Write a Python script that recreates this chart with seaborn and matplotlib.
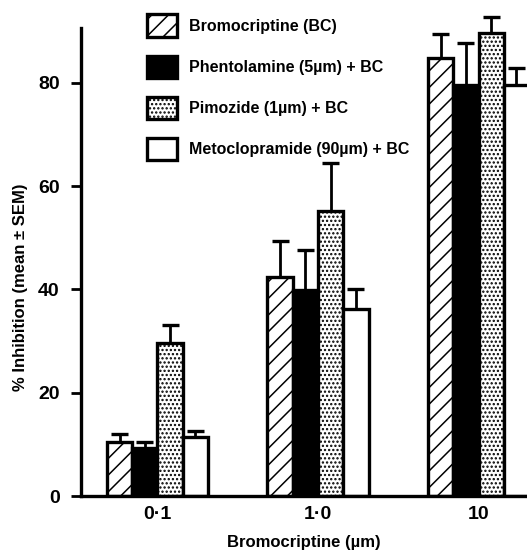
import matplotlib
matplotlib.use("Agg")
import matplotlib.pyplot as plt
from matplotlib.patches import Patch
import seaborn as sns
import pandas as pd

# ---- data ----
doses = ["0·1", "1·0", "10"]
treatments = ["Bromocriptine (BC)", "Phentolamine (5µm) + BC",
              "Pimozide (1µm) + BC", "Metoclopramide (90µm) + BC"]
bc_mean = [10.5, 42.4, 84.8]
phent_mean = [9.3, 39.9, 79.6]
pim_mean = [29.6, 55.2, 89.6]
meto_mean = [11.4, 36.2, 79.6]
bc_sem = [1.5, 7.0, 4.6]
phent_sem = [1.2, 7.7, 8.1]
pim_sem = [3.5, 9.3, 3.1]
meto_sem = [1.2, 3.9, 3.2]
yticks = [0, 20, 40, 60, 80]

means = [bc_mean, phent_mean, pim_mean, meto_mean]
sems = [bc_sem, phent_sem, pim_sem, meto_sem]
rows = []
for t, m, s in zip(treatments, means, sems):
    for d, mv, sv in zip(doses, m, s):
        rows.append({"dose": d, "treatment": t, "mean": mv, "sem": sv})
df = pd.DataFrame(rows)

sns.set_style("white")
plt.rcParams["font.family"] = ["Liberation Sans", "DejaVu Sans"]
plt.rcParams["text.color"] = "black"
plt.rcParams["axes.labelcolor"] = "black"
plt.rcParams["xtick.color"] = "black"
plt.rcParams["ytick.color"] = "black"
plt.rcParams["hatch.linewidth"] = 1.1

fig = plt.figure(figsize=(5.27, 5.58), dpi=100)
ax = fig.add_axes([0.1531, 0.1111, 0.847, 0.8387])

fills = ["white", "black", "white", "white"]
hatches = ["//", None, "....", None]

sns.barplot(data=df, x="dose", y="mean", hue="treatment", order=doses,
            hue_order=treatments, palette=fills, width=0.63, errorbar=None,
            edgecolor="black", linewidth=2.4, saturation=1, legend=False, ax=ax)

cap_half = 0.053
for i, t in enumerate(treatments):
    cont = ax.containers[i]
    sub = df[df.treatment == t].set_index("dose").loc[doses]
    xs = []
    for p in cont.patches:
        if hatches[i]:
            p.set_hatch(hatches[i])
        xs.append(p.get_x() + p.get_width() / 2)
    tops = sub["mean"].values + sub["sem"].values
    ax.vlines(xs, sub["mean"].values, tops, color="black", linewidth=2.0,
              clip_on=False, zorder=1)
    ax.hlines(tops, [x - cap_half for x in xs], [x + cap_half for x in xs],
              color="black", linewidth=2.4, clip_on=False, zorder=1)

ax.set_xlim(-0.478, 2.302)
ax.set_ylim(0, 90.6)
ax.set_yticks(yticks)
ax.set_yticklabels([str(v) for v in yticks], fontsize=14, fontweight="bold")
ax.set_xticklabels(doses, fontsize=14, fontweight="bold")
ax.tick_params(axis="y", direction="out", length=7, width=2, pad=8, left=True)
ax.tick_params(axis="x", length=0, pad=7)
for s in ["top", "right"]:
    ax.spines[s].set_visible(False)
for s in ["left", "bottom"]:
    ax.spines[s].set_linewidth(2.4)
    ax.spines[s].set_color("black")

ax.set_xlabel("Bromocriptine (µm)", fontsize=12, fontweight="bold", labelpad=9)
ax.set_ylabel("% Inhibition (mean ± SEM)", fontsize=12, fontweight="bold")
ax.yaxis.set_label_coords(-0.118, 0.447)

handles = [Patch(facecolor=f, edgecolor="black", hatch=h, linewidth=2.4)
           for f, h in zip(fills, hatches)]
ax.legend(handles, treatments, loc="upper left", bbox_to_anchor=(0.1486, 1.029),
          frameon=False, handlelength=1.9, handleheight=1.75,
          handletextpad=0.75, labelspacing=1.2, borderpad=0, borderaxespad=0,
          prop={"size": 11.5, "weight": "bold"})

fig.savefig("out.png", dpi=100)
